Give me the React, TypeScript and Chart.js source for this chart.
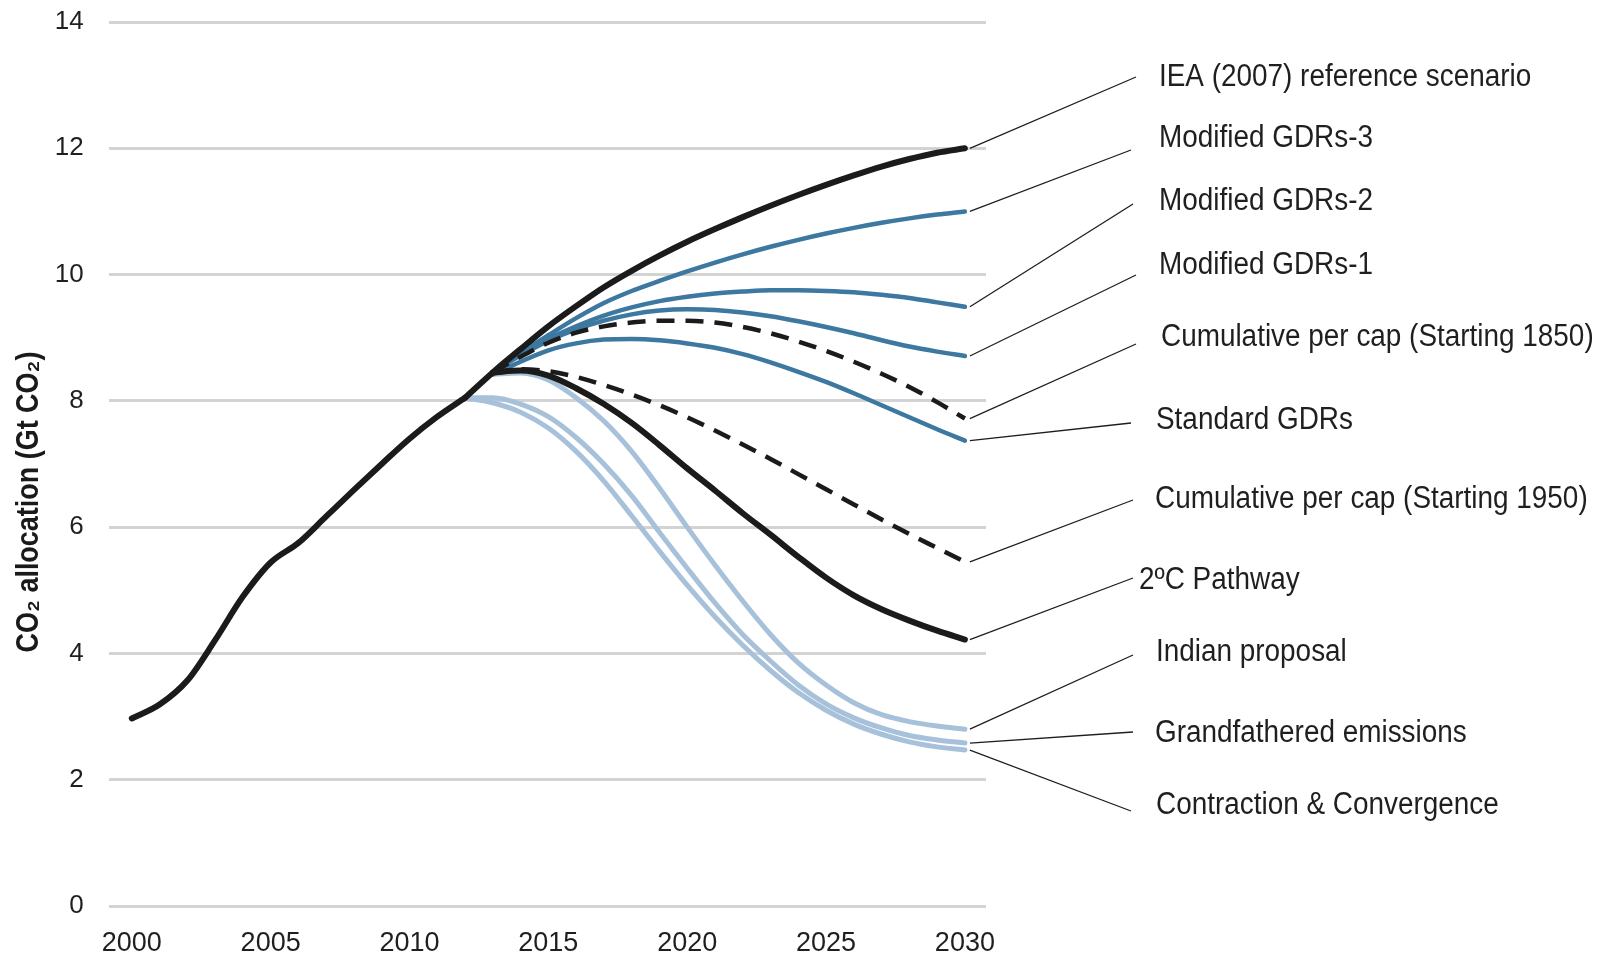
import React, { useEffect, useRef } from "react";
import { Chart, registerables } from "chart.js";

Chart.register(...registerables);

// ---------- data ----------
const historyYears = [2000, 2001, 2002, 2003, 2004, 2005, 2006, 2007, 2008, 2009, 2010, 2011, 2012];
const historyValues = [2.97, 3.19, 3.57, 4.21, 4.9, 5.44, 5.75, 6.17, 6.59, 7.0, 7.4, 7.75, 8.05];

const projYears = [2012, 2013, 2014, 2015, 2016, 2017, 2018, 2019, 2020, 2021, 2022, 2023, 2024, 2025, 2026, 2027, 2028, 2029, 2030];
const ieaReference = [8.05, 8.45, 8.82, 9.18, 9.5, 9.8, 10.06, 10.3, 10.52, 10.72, 10.91, 11.09, 11.26, 11.42, 11.57, 11.71, 11.83, 11.93, 12.0];
const modifiedGdrs3 = [null, 8.45, 8.76, 9.04, 9.31, 9.55, 9.74, 9.9, 10.05, 10.19, 10.32, 10.44, 10.55, 10.65, 10.74, 10.82, 10.89, 10.95, 11.0];
const modifiedGdrs2 = [null, 8.45, 8.74, 8.98, 9.18, 9.35, 9.48, 9.58, 9.65, 9.7, 9.73, 9.75, 9.75, 9.74, 9.72, 9.68, 9.63, 9.56, 9.49];
const modifiedGdrs1 = [null, 8.45, 8.72, 8.95, 9.13, 9.27, 9.37, 9.43, 9.45, 9.44, 9.4, 9.34, 9.26, 9.17, 9.07, 8.96, 8.86, 8.78, 8.71];
const cumulative1850 = [null, 8.45, 8.7, 8.92, 9.08, 9.18, 9.24, 9.27, 9.27, 9.24, 9.17, 9.07, 8.94, 8.79, 8.62, 8.43, 8.22, 7.98, 7.72];
const standardGdrs = [null, 8.42, 8.62, 8.8, 8.91, 8.97, 8.98, 8.96, 8.91, 8.84, 8.74, 8.61, 8.46, 8.3, 8.12, 7.93, 7.74, 7.55, 7.37];
const cumulative1950 = [null, 8.45, 8.5, 8.47, 8.38, 8.25, 8.1, 7.93, 7.74, 7.53, 7.31, 7.08, 6.84, 6.6, 6.36, 6.12, 5.89, 5.67, 5.45];
const twoDegreePathway = [null, 8.45, 8.48, 8.4, 8.2, 7.95, 7.65, 7.3, 6.93, 6.58, 6.22, 5.88, 5.53, 5.2, 4.92, 4.7, 4.52, 4.36, 4.22];
const indianProposal = [null, 8.42, 8.44, 8.33, 8.05, 7.68, 7.2, 6.62, 6.0, 5.4, 4.83, 4.3, 3.85, 3.5, 3.22, 3.03, 2.92, 2.85, 2.8];
const grandfathered = [8.05, 8.05, 7.95, 7.75, 7.42, 7.0, 6.5, 5.92, 5.35, 4.8, 4.3, 3.88, 3.5, 3.2, 2.98, 2.82, 2.7, 2.63, 2.58];
const contractionConvergence = [8.05, 7.97, 7.82, 7.57, 7.2, 6.73, 6.18, 5.62, 5.08, 4.58, 4.13, 3.73, 3.38, 3.1, 2.88, 2.72, 2.6, 2.52, 2.47];

const seriesNames = [
  "IEA (2007) reference scenario",
  "Modified GDRs-3",
  "Modified GDRs-2",
  "Modified GDRs-1",
  "Cumulative per cap (Starting 1850)",
  "Standard GDRs",
  "Cumulative per cap (Starting 1950)",
  "2ºC Pathway",
  "Indian proposal",
  "Grandfathered emissions",
  "Contraction & Convergence",
];
const seriesValues = [
  ieaReference,
  modifiedGdrs3,
  modifiedGdrs2,
  modifiedGdrs1,
  cumulative1850,
  standardGdrs,
  cumulative1950,
  twoDegreePathway,
  indianProposal,
  grandfathered,
  contractionConvergence,
];

const xTickYears = [2000, 2005, 2010, 2015, 2020, 2025, 2030];
const yTickValues = [0, 2, 4, 6, 8, 10, 12, 14];
const yAxisTitle = "CO₂ allocation (Gt CO₂)";

// ---------- styles / layout ----------
const BLACK = "#1b1b1b";
const BLUE = "#3c78a0";
const LIGHT = "#a7c1db";
const seriesStyle = [
  { color: BLACK, width: 6, dash: [] as number[] },
  { color: BLUE, width: 4.5, dash: [] },
  { color: BLUE, width: 4.5, dash: [] },
  { color: BLUE, width: 4.5, dash: [] },
  { color: BLACK, width: 4.5, dash: [18, 11] },
  { color: BLUE, width: 4.5, dash: [] },
  { color: BLACK, width: 4.5, dash: [18, 11] },
  { color: BLACK, width: 6, dash: [] },
  { color: LIGHT, width: 5, dash: [] },
  { color: LIGHT, width: 5, dash: [] },
  { color: LIGHT, width: 5, dash: [] },
];
// label text position (left x, middle y) and leader-line end near label
const labelLayout = [
  { tx: 1159, ty: 77, lx: 1136, ly: 77 },
  { tx: 1159, ty: 138, lx: 1131, ly: 150 },
  { tx: 1159, ty: 201, lx: 1133, ly: 204 },
  { tx: 1159, ty: 265, lx: 1136, ly: 275 },
  { tx: 1161, ty: 337, lx: 1136, ly: 344 },
  { tx: 1156, ty: 420, lx: 1131, ly: 423 },
  { tx: 1155, ty: 499, lx: 1133, ly: 500 },
  { tx: 1139, ty: 580, lx: 1133, ly: 578 },
  { tx: 1156, ty: 652, lx: 1133, ly: 655 },
  { tx: 1155, ty: 733, lx: 1133, ly: 732 },
  { tx: 1156, ty: 805, lx: 1131, ly: 811 },
];

const FONT = "'Liberation Sans', Arial, Helvetica, sans-serif";

const annotationPlugin = {
  id: "sideLabels",
  afterDatasetsDraw(chart: any) {
    const ctx = chart.ctx as CanvasRenderingContext2D;
    const xs = chart.scales.x;
    const ys = chart.scales.y;
    ctx.save();
    // leader lines
    ctx.strokeStyle = "#1e1e1e";
    ctx.lineWidth = 1.3;
    seriesValues.forEach((vals, i) => {
      const last = vals[vals.length - 1] as number;
      const x0 = xs.getPixelForValue(projYears[projYears.length - 1]) + 5;
      const y0 = ys.getPixelForValue(last);
      const L = labelLayout[i];
      ctx.beginPath();
      ctx.moveTo(x0, y0);
      ctx.lineTo(L.lx, L.ly);
      ctx.stroke();
    });
    // labels
    ctx.fillStyle = "#1f1f1f";
    ctx.font = `31px ${FONT}`;
    ctx.textBaseline = "middle";
    ctx.textAlign = "left";
    seriesNames.forEach((name, i) => {
      const L = labelLayout[i];
      ctx.save();
      ctx.translate(L.tx, L.ty);
      ctx.scale(0.9, 1);
      ctx.fillText(name, 0, 0);
      ctx.restore();
    });
    // y-axis title
    ctx.font = `bold 32px ${FONT}`;
    const w = ctx.measureText(yAxisTitle).width;
    const s = 301 / w;
    ctx.save();
    ctx.translate(29, 502);
    ctx.rotate(-Math.PI / 2);
    ctx.scale(s, 1);
    ctx.textAlign = "center";
    ctx.fillStyle = "#1a1a1a";
    ctx.fillText(yAxisTitle, 0, 0);
    ctx.restore();
    ctx.restore();
  },
};

export default function App() {
  const ref = useRef<HTMLCanvasElement | null>(null);
  useEffect(() => {
    document.body.style.margin = "0";
    const canvas = ref.current!;
    const datasets: any[] = [];
    seriesValues.forEach((vals, i) => {
      const st = seriesStyle[i];
      let order = 3;
      if (st.color === BLACK) order = 1;
      if (st.color === LIGHT) order = 4;
      if (st.color === BLUE) order = 2;
      datasets.push({
        label: seriesNames[i],
        data: projYears
          .map((yr, k) => ({ x: yr, y: vals[k] }))
          .filter((p) => p.y !== null),
        borderColor: st.color,
        borderWidth: st.width,
        borderDash: st.dash,
        borderCapStyle: st.dash.length ? "butt" : "round",
        borderJoinStyle: "round",
        pointRadius: 0,
        fill: false,
        cubicInterpolationMode: "monotone",
        order,
      });
    });
    datasets.push({
      label: "Historical",
      data: historyYears.map((yr, k) => ({ x: yr, y: historyValues[k] })),
      borderColor: BLACK,
      borderWidth: 6,
      borderCapStyle: "round",
      borderJoinStyle: "round",
      pointRadius: 0,
      fill: false,
      cubicInterpolationMode: "monotone",
      order: 0,
    });

    const chart = new Chart(canvas, {
      type: "line",
      data: { datasets },
      options: {
        animation: false,
        responsive: false,
        devicePixelRatio: 1,
        layout: { padding: { top: 22, right: 614, bottom: 0, left: 0 } },
        plugins: { legend: { display: false }, tooltip: { enabled: false } },
        scales: {
          x: {
            type: "linear",
            min: 1999.19,
            max: 2030.76,
            grid: { display: false, drawTicks: false },
            border: { display: false },
            afterBuildTicks: (axis: any) => {
              axis.ticks = xTickYears.map((v) => ({ value: v }));
            },
            afterFit: (axis: any) => {
              axis.height = 50;
            },
            ticks: {
              padding: 21,
              maxRotation: 0,
              autoSkip: false,
              color: "#1f1f1f",
              font: { family: FONT, size: 27 },
              callback: (v: any) => String(v),
            },
          },
          y: {
            type: "linear",
            min: 0,
            max: 14,
            grid: {
              color: "#d3d3d3",
              lineWidth: 3,
              drawTicks: true,
              tickLength: 25.6,
              tickColor: "rgba(0,0,0,0)",
              tickWidth: 0,
            },
            border: { display: false },
            afterBuildTicks: (axis: any) => {
              axis.ticks = yTickValues.map((v) => ({ value: v }));
            },
            afterFit: (axis: any) => {
              axis.width = 109.3;
            },
            ticks: {
              padding: 0,
              color: "#1f1f1f",
              font: { family: FONT, size: 26 },
              callback: (v: any) => String(v),
            },
          },
        },
      },
      plugins: [annotationPlugin],
    } as any);
    return () => chart.destroy();
  }, []);
  return (
    <div style={{ width: 1600, height: 956 }}>
      <canvas ref={ref} width={1600} height={956} style={{ display: "block" }} />
    </div>
  );
}
